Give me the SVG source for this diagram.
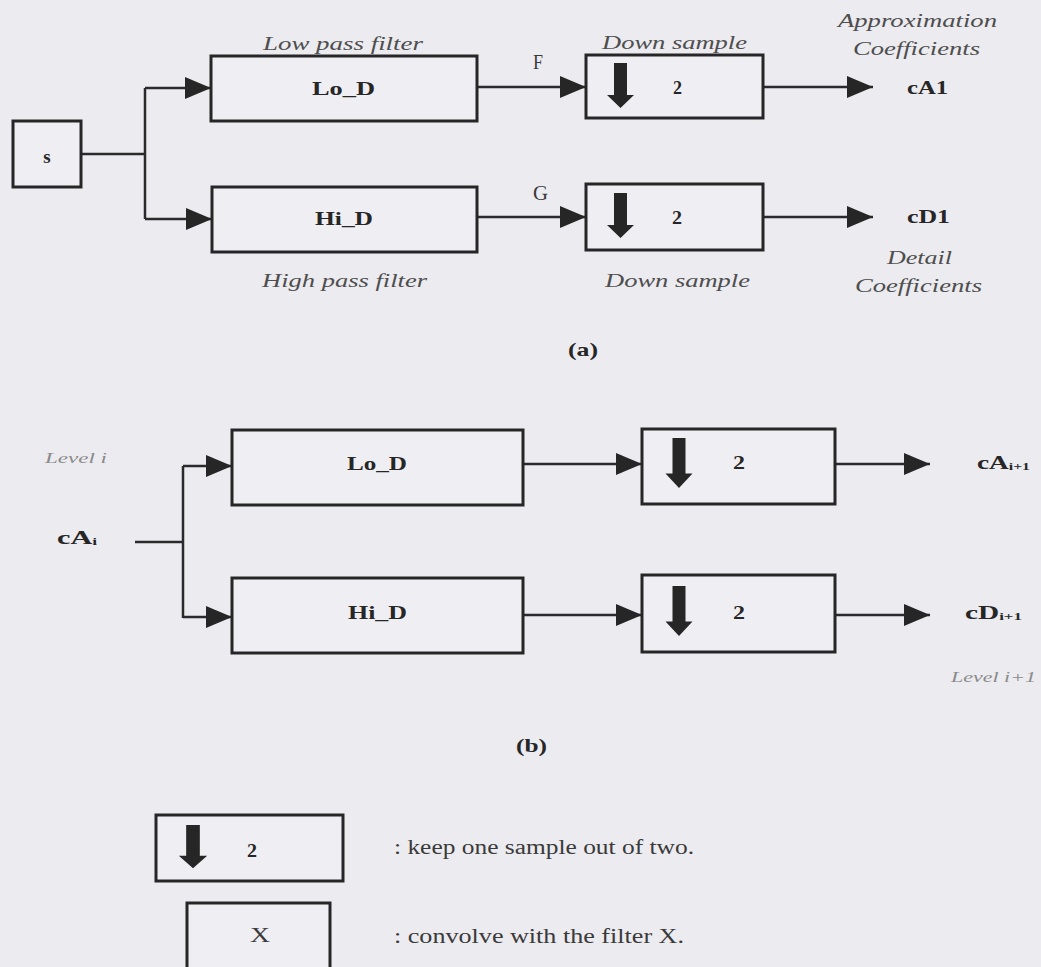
<svg xmlns="http://www.w3.org/2000/svg" width="1041" height="967" viewBox="0 0 1041 967">
<defs>
<style>
.bg{fill:#ecebf0}
.box{fill:#efeef2;stroke:#262626;stroke-width:3}
.ln{fill:none;stroke:#2a2a2a;stroke-width:2.5}
text{font-family:"Liberation Serif",serif;dominant-baseline:central}
.b{font-weight:bold;font-size:19px;fill:#262626}
.i{font-style:italic;font-size:19px;fill:#4e4e4e}
.r{font-size:20px;fill:#3a3a3a}
.lv{font-style:italic;font-size:15px;fill:#8a8a8a}
.dn{fill:#262626}
</style>
<marker id="ah" markerUnits="userSpaceOnUse" markerWidth="26" markerHeight="22" refX="26" refY="11" orient="auto">
<path d="M0,0 L26,11 L0,22 Z" fill="#262626"/>
</marker>
<symbol id="down" overflow="visible">
<path d="M-6.5,0 H6.5 V32 H13.5 L0,45 L-13.5,32 H-6.5 Z"/>
</symbol>
</defs>
<rect class="bg" x="0" y="0" width="1041" height="967"/>

<g id="connectors">
<path class="ln" d="M81,154 H145"/>
<path class="ln" d="M145,88 V219"/>
<path class="ln" d="M145,88 H211" marker-end="url(#ah)"/>
<path class="ln" d="M145,219 H212" marker-end="url(#ah)"/>
<path class="ln" d="M477,87 H586" marker-end="url(#ah)"/>
<path class="ln" d="M477,217 H586" marker-end="url(#ah)"/>
<path class="ln" d="M763,87 H873" marker-end="url(#ah)"/>
<path class="ln" d="M763,217 H873" marker-end="url(#ah)"/>

<path class="ln" d="M135,542 H183"/>
<path class="ln" d="M183,466 V618"/>
<path class="ln" d="M183,466 H232" marker-end="url(#ah)"/>
<path class="ln" d="M183,617 H232" marker-end="url(#ah)"/>
<path class="ln" d="M523,464 H642" marker-end="url(#ah)"/>
<path class="ln" d="M523,615 H642" marker-end="url(#ah)"/>
<path class="ln" d="M835,464 H930" marker-end="url(#ah)"/>
<path class="ln" d="M835,615 H930" marker-end="url(#ah)"/>
</g>

<g id="node-s">
<rect class="box" x="13" y="121" width="68" height="66"/>
<text class="b" x="47" y="156" text-anchor="middle" font-size="17">s</text>
</g>
<g id="node-lod-a">
<rect class="box" x="211" y="56" width="266" height="65"/>
<text class="b" x="312" y="88" textLength="63" lengthAdjust="spacingAndGlyphs">Lo_D</text>
<text class="i" x="263" y="43" textLength="160" lengthAdjust="spacingAndGlyphs">Low pass filter</text>
</g>
<g id="node-hid-a">
<rect class="box" x="212" y="187" width="265" height="65"/>
<text class="b" x="315" y="218" textLength="58" lengthAdjust="spacingAndGlyphs">Hi_D</text>
<text class="i" x="262" y="280" textLength="165" lengthAdjust="spacingAndGlyphs">High pass filter</text>
</g>
<g id="node-ds1-a">
<rect class="box" x="586" y="55" width="177" height="63"/>
<use href="#down" class="dn" x="620.5" y="63"/>
<text class="b" x="673" y="87" font-size="17" textLength="9" lengthAdjust="spacingAndGlyphs">2</text>
<text class="i" x="602" y="42" textLength="145" lengthAdjust="spacingAndGlyphs">Down sample</text>
<text class="r" x="533" y="62" font-size="17" textLength="10" lengthAdjust="spacingAndGlyphs">F</text>
</g>
<g id="node-ds2-a">
<rect class="box" x="586" y="184" width="177" height="66"/>
<use href="#down" class="dn" x="620.5" y="193"/>
<text class="b" x="672" y="217" font-size="17" textLength="10" lengthAdjust="spacingAndGlyphs">2</text>
<text class="i" x="605" y="280" textLength="145" lengthAdjust="spacingAndGlyphs">Down sample</text>
<text class="r" x="533" y="193" font-size="17" textLength="15" lengthAdjust="spacingAndGlyphs">G</text>
</g>
<g id="out-ca1">
<text class="i" x="838" y="20" textLength="159" lengthAdjust="spacingAndGlyphs">Approximation</text>
<text class="i" x="853" y="48" textLength="127" lengthAdjust="spacingAndGlyphs">Coefficients</text>
<text class="b" x="907" y="87" font-size="18" textLength="41" lengthAdjust="spacingAndGlyphs">cA1</text>
</g>
<g id="out-cd1">
<text class="b" x="907" y="216" font-size="18" textLength="43" lengthAdjust="spacingAndGlyphs">cD1</text>
<text class="i" x="887" y="257" textLength="65" lengthAdjust="spacingAndGlyphs">Detail</text>
<text class="i" x="855" y="285" textLength="127" lengthAdjust="spacingAndGlyphs">Coefficients</text>
</g>
<text class="b" x="568" y="349" font-size="17" textLength="30" lengthAdjust="spacingAndGlyphs">(a)</text>

<g id="in-cai">
<text class="lv" x="45" y="458" textLength="62" lengthAdjust="spacingAndGlyphs">Level i</text>
<text class="b" x="57" y="537" font-size="17" textLength="40" lengthAdjust="spacingAndGlyphs">cA<tspan font-size="11" dy="4">i</tspan></text>
</g>
<g id="node-lod-b">
<rect class="box" x="232" y="430" width="291" height="75"/>
<text class="b" x="347" y="463" textLength="60" lengthAdjust="spacingAndGlyphs">Lo_D</text>
</g>
<g id="node-hid-b">
<rect class="box" x="232" y="578" width="291" height="75"/>
<text class="b" x="348" y="612" textLength="59" lengthAdjust="spacingAndGlyphs">Hi_D</text>
</g>
<g id="node-ds1-b">
<rect class="box" x="642" y="429" width="193" height="75"/>
<use href="#down" class="dn" transform="translate(679,438) scale(1,1.11)"/>
<text class="b" x="733" y="462" font-size="17" textLength="12" lengthAdjust="spacingAndGlyphs">2</text>
</g>
<g id="node-ds2-b">
<rect class="box" x="642" y="575" width="193" height="77"/>
<use href="#down" class="dn" transform="translate(679,586) scale(1,1.11)"/>
<text class="b" x="733" y="612" font-size="17" textLength="12" lengthAdjust="spacingAndGlyphs">2</text>
</g>
<g id="out-b">
<text class="b" x="977" y="462" font-size="17" textLength="53" lengthAdjust="spacingAndGlyphs">cA<tspan font-size="11" dy="4">i+1</tspan></text>
<text class="b" x="965" y="612" font-size="18" textLength="57" lengthAdjust="spacingAndGlyphs">cD<tspan font-size="11" dy="4">i+1</tspan></text>
<text class="lv" x="951" y="677" textLength="85" lengthAdjust="spacingAndGlyphs">Level i+1</text>
</g>
<text class="b" x="516" y="745" font-size="17" textLength="31" lengthAdjust="spacingAndGlyphs">(b)</text>

<g id="legend-ds">
<rect class="box" x="156" y="815" width="187" height="66"/>
<use href="#down" class="dn" transform="translate(193,825) scale(1.05,0.96)"/>
<text class="b" x="247" y="850" font-size="17" textLength="10" lengthAdjust="spacingAndGlyphs">2</text>
<text class="r" x="394" y="847" textLength="300" lengthAdjust="spacingAndGlyphs">: keep one sample out of two.</text>
</g>
<g id="legend-x">
<rect class="box" x="187" y="903" width="143" height="80"/>
<text class="r" x="250" y="935" textLength="20" lengthAdjust="spacingAndGlyphs">X</text>
<text class="r" x="394" y="936" textLength="290" lengthAdjust="spacingAndGlyphs">: convolve with the filter X.</text>
</g>
</svg>
